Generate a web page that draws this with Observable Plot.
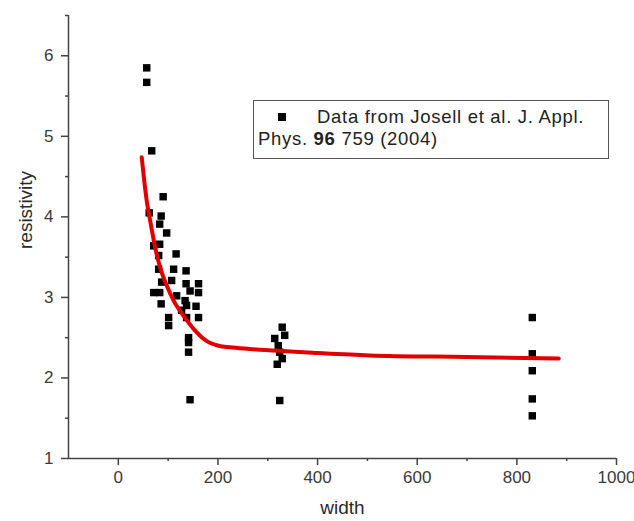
<!DOCTYPE html>
<html>
<head>
<meta charset="utf-8">
<script src="https://cdn.jsdelivr.net/npm/d3@7"></script>
<script src="https://cdn.jsdelivr.net/npm/@observablehq/plot@0.6"></script>
<style>
  body { margin: 0; background: #fff; font-family: "Liberation Sans", Arial, sans-serif; }
  #wrap { position: relative; width: 634px; height: 521px; }
  #legend { position: absolute; left: 253px; top: 100px; width: 354px; height: 57px;
    border: 1px solid #555; background: #fff; color: #222; font-size: 18.5px; line-height: 22px; letter-spacing: 0.7px; }
  #legend .l1 { position: absolute; left: 24px; top: 5px; white-space: nowrap; }
  #legend .l2 { position: absolute; left: 4px; top: 27px; white-space: nowrap; }
  #legend .sq { display: inline-block; width: 8px; height: 8px; background: #000; margin-right: 31px; vertical-align: 2px; }
</style>
</head>
<body>
<div id="wrap">
  <div id="chart"></div>
  <div id="legend">
    <div class="l1"><span class="sq"></span>Data from Josell et al. J. Appl.</div>
    <div class="l2">Phys. <b>96</b> 759 (2004)</div>
  </div>
</div>
<script>
const widths = [57,57,67,90,86,62,83,97,71,83,116,81,111,136,81,87,107,136,161,144,161,71,83,117,134,86,137,156,127,101,161,137,101,141,141,141,144,
  329,334,314,321,324,329,319,324, 831,831,831,831,831];
const resist = [5.85,5.67,4.82,4.25,4.01,4.05,3.91,3.80,3.64,3.66,3.54,3.52,3.35,3.33,3.35,3.19,3.21,3.17,3.17,3.08,3.06,3.06,3.06,3.02,2.96,2.92,2.90,2.89,2.84,2.75,2.75,2.75,2.65,2.50,2.44,2.32,1.73,
  2.63,2.53,2.49,2.40,2.32,2.24,2.17,1.72, 2.75,2.30,2.09,1.74,1.53];
const fitX = [47,57,64,74,84,97,111,131,151,177,201,224,264,400,504,700,884];
const fitY = [4.74,4.20,3.95,3.62,3.37,3.15,2.96,2.77,2.61,2.46,2.40,2.38,2.36,2.31,2.28,2.26,2.24];
const xMajor = [0,200,400,600,800,1000];
const xMinor = [100,300,500,700,900];
const yMajor = [1,2,3,4,5,6];
const yMinor = [1.5,2.5,3.5,4.5,5.5,6.5];

const pts = widths.map((w,i)=>({w, r: resist[i]}));
const fit = fitX.map((w,i)=>({w, r: fitY[i]}));
const axisColor = "#444";
const fmt = d => String(d);

const chart = Plot.plot({
  width: 634, height: 521,
  marginLeft: 68, marginRight: 18, marginTop: 15, marginBottom: 63,
  style: {fontFamily: "Liberation Sans, Arial, sans-serif", fontSize: "17px", color: "#333", background: "#fff"},
  x: {domain: [-100, 1000], axis: null},
  y: {domain: [1, 6.5], axis: null},
  marks: [
    Plot.ruleY([1], {x1: -100, x2: 1000, stroke: axisColor, strokeWidth: 1.5}),
    Plot.ruleX([-100], {y1: 1, y2: 6.5, stroke: axisColor, strokeWidth: 1.5}),
    Plot.axisX(xMajor, {tickSize: 7, tickPadding: 5, tickFormat: fmt, stroke: axisColor, strokeWidth: 1.5, fill: "#3a3a3a", fontSize: 17, label: null}),
    Plot.axisX(xMinor, {tickSize: 3, text: null, stroke: axisColor, strokeWidth: 1.5, label: null}),
    Plot.axisY(yMajor, {tickSize: 7, tickPadding: 8, tickFormat: fmt, stroke: axisColor, strokeWidth: 1.5, fill: "#3a3a3a", fontSize: 17, label: null, x: -100}),
    Plot.axisY(yMinor, {tickSize: 3, text: null, stroke: axisColor, strokeWidth: 1.5, label: null, x: -100}),
    Plot.text(["width"], {frameAnchor: "bottom", dy: 55, fontSize: 19, fill: "#2a2a2a"}),
    Plot.text(["resistivity"], {frameAnchor: "left", dx: -43, dy: 12, rotate: -90, fontSize: 19, fill: "#2a2a2a"}),
    Plot.dot(pts, {x: "w", y: "r", symbol: "square", r: 4.2, fill: "#000", stroke: "none"}),
    Plot.line(fit, {x: "w", y: "r", stroke: "#e00000", strokeWidth: 4, curve: "monotone-x"})
  ]
});
document.getElementById("chart").appendChild(chart);
</script>
</body>
</html>
